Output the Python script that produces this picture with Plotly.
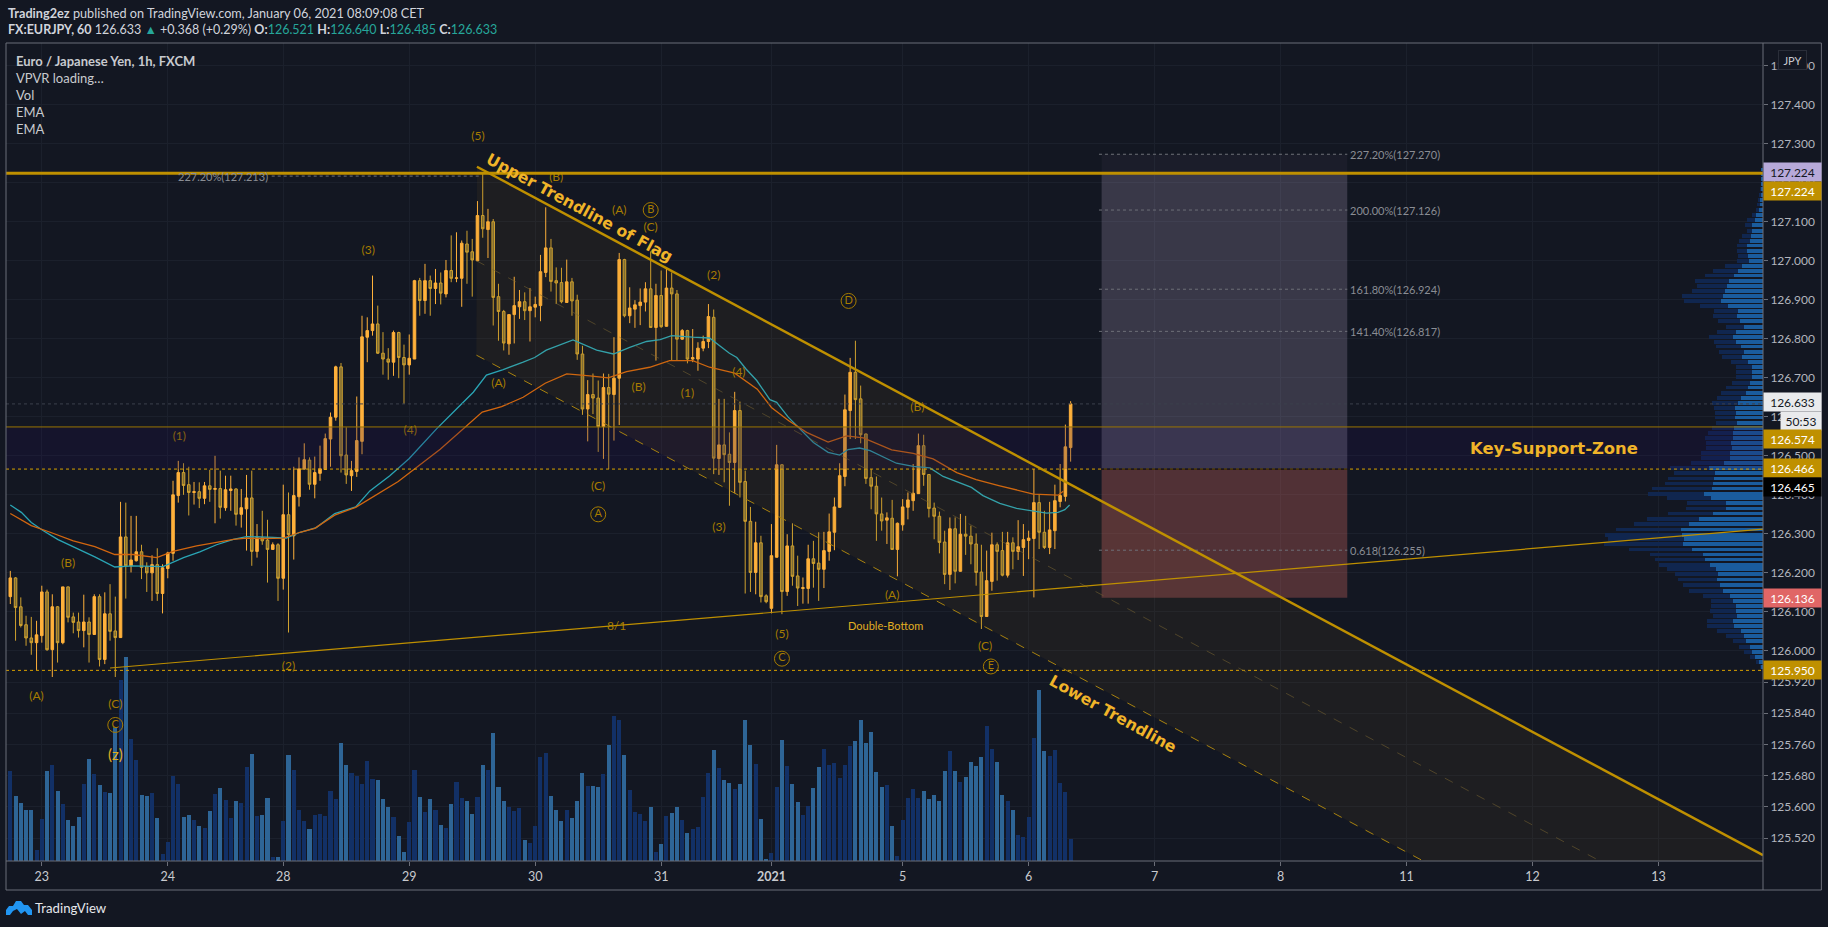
import plotly.graph_objects as go

# ---------- candles (hourly bars, indexed from the first bar) ----------
opens = [126.139,126.187,126.113,126.067,126.033,126.021,126.039,126.151,126.003,126.113,
126.021,126.164,126.087,126.074,126.052,126.074,126.042,126.139,125.978,126.095,
126.051,126.034,126.292,126.218,126.231,126.254,126.216,126.200,126.221,126.147,
126.211,126.250,126.398,126.457,126.426,126.406,126.408,126.391,126.423,126.414,
126.416,126.367,126.411,126.415,126.350,126.364,126.392,126.255,126.290,126.284,
126.260,126.272,126.186,126.349,126.295,126.395,126.466,126.489,126.427,126.455,
126.465,126.543,126.599,126.728,126.502,126.449,126.460,126.537,126.804,126.821,
126.838,126.763,126.748,126.740,126.816,126.752,126.733,126.748,126.949,126.898,
126.949,126.929,126.943,126.915,126.975,126.955,126.955,127.043,127.023,127.000,
127.116,127.080,127.100,126.908,126.870,126.787,126.862,126.882,126.895,126.872,
126.881,126.885,126.970,127.033,126.949,126.944,126.893,126.946,126.899,126.761,
126.620,126.657,126.648,126.575,126.675,126.657,126.699,127.003,126.859,126.876,
126.885,126.894,126.928,126.829,126.911,126.832,126.930,126.915,126.799,126.821,
126.748,126.748,126.776,126.793,126.855,126.493,126.528,126.504,126.483,126.616,
126.434,126.332,126.201,126.277,126.141,126.109,126.240,126.477,126.152,126.269,
126.192,126.160,126.160,126.236,126.225,126.209,126.255,126.304,126.368,126.447,
126.616,126.714,126.646,126.556,126.444,126.422,126.351,126.335,126.340,126.260,
126.323,126.368,126.385,126.403,126.526,126.452,126.366,126.345,126.279,126.196,
126.313,126.204,126.299,126.294,126.274,126.202,126.088,126.178,126.272,126.257,
126.194,126.277,126.255,126.265,126.283,126.288,126.380,126.304,126.265,126.308,
126.383,126.396,126.521]
highs = [126.205,126.189,126.137,126.090,126.087,126.077,126.167,126.157,126.145,126.115,
126.164,126.165,126.098,126.098,126.144,126.086,126.145,126.145,126.150,126.171,
126.139,126.382,126.380,126.346,126.346,126.272,126.227,126.245,126.263,126.222,
126.254,126.436,126.487,126.481,126.472,126.433,126.432,126.433,126.464,126.500,
126.462,126.449,126.449,126.417,126.415,126.451,126.462,126.325,126.359,126.336,
126.278,126.276,126.426,126.406,126.472,126.496,126.532,126.496,126.498,126.526,
126.557,126.611,126.731,126.738,126.573,126.487,126.652,126.859,126.855,126.962,
126.885,126.817,126.776,126.821,126.818,126.785,126.811,126.951,126.956,126.992,
126.962,126.979,126.970,127.002,127.065,127.073,127.052,127.077,127.056,127.153,
127.224,127.133,127.107,126.941,126.874,126.862,126.959,126.925,126.919,126.930,
126.908,127.015,127.137,127.056,126.983,126.982,127.003,126.956,126.913,126.782,
126.694,126.711,126.693,126.711,126.710,126.804,127.020,127.005,126.932,126.899,
126.929,126.945,127.024,126.941,126.975,126.983,126.970,126.925,126.825,126.823,
126.825,126.791,126.808,126.889,126.875,126.646,126.646,126.560,126.664,126.639,
126.462,126.369,126.331,126.295,126.145,126.325,126.528,126.479,126.299,126.327,
126.244,126.188,126.272,126.282,126.304,126.305,126.352,126.393,126.481,126.657,
126.751,126.795,126.680,126.557,126.466,126.447,126.393,126.355,126.387,126.329,
126.389,126.406,126.479,126.557,126.554,126.453,126.380,126.357,126.308,126.342,
126.342,126.351,126.346,126.321,126.301,126.272,126.257,126.303,126.278,126.305,
126.305,126.291,126.335,126.325,126.308,126.466,126.402,126.359,126.382,126.426,
126.479,126.580,126.640]
lows = [126.120,126.026,126.060,126.013,125.990,125.951,126.021,126.000,125.933,125.970,
126.017,126.073,126.045,126.034,126.009,125.970,126.041,125.960,125.966,126.026,
125.933,126.033,126.134,126.201,126.229,126.184,126.151,126.128,126.128,126.096,
126.186,126.231,126.380,126.400,126.347,126.375,126.366,126.376,126.382,126.327,
126.339,126.359,126.359,126.321,126.316,126.257,126.218,126.239,126.272,126.175,
126.259,126.128,126.157,126.047,126.234,126.370,126.465,126.413,126.391,126.436,
126.464,126.472,126.590,126.457,126.428,126.410,126.446,126.504,126.740,126.808,
126.761,126.708,126.695,126.705,126.699,126.633,126.708,126.748,126.859,126.864,
126.859,126.889,126.888,126.906,126.945,126.945,126.882,126.941,126.908,126.999,
127.059,127.007,126.834,126.795,126.770,126.759,126.788,126.851,126.848,126.793,
126.855,126.845,126.958,126.921,126.889,126.891,126.893,126.859,126.746,126.605,
126.537,126.607,126.510,126.492,126.466,126.539,126.579,126.855,126.840,126.828,
126.835,126.870,126.828,126.744,126.828,126.831,126.744,126.744,126.797,126.737,
126.740,126.718,126.768,126.776,126.453,126.451,126.432,126.372,126.404,126.393,
126.147,126.151,126.145,126.124,126.122,126.096,126.239,126.094,126.141,126.167,
126.115,126.121,126.121,126.162,126.128,126.161,126.231,126.258,126.367,126.422,
126.543,126.543,126.532,126.428,126.363,126.282,126.308,126.274,126.259,126.191,
126.308,126.337,126.359,126.402,126.423,126.342,126.286,126.250,126.171,126.156,
126.173,126.203,126.246,126.222,126.167,126.056,126.087,126.154,126.180,126.191,
126.188,126.209,126.233,126.192,126.235,126.137,126.261,126.261,126.248,126.261,
126.368,126.383,126.485]
closes = [126.187,126.111,126.065,126.033,126.021,126.041,126.151,126.003,126.113,126.021,
126.164,126.086,126.073,126.052,126.074,126.042,126.139,125.978,126.095,126.050,
126.034,126.292,126.218,126.233,126.254,126.214,126.200,126.221,126.147,126.213,
126.251,126.400,126.457,126.424,126.406,126.408,126.391,126.423,126.414,126.416,
126.368,126.413,126.415,126.350,126.367,126.392,126.255,126.290,126.282,126.260,
126.272,126.186,126.349,126.298,126.398,126.467,126.490,126.427,126.457,126.467,
126.544,126.599,126.728,126.500,126.451,126.462,126.539,126.805,126.821,126.838,
126.763,126.748,126.740,126.816,126.752,126.733,126.750,126.949,126.898,126.949,
126.929,126.943,126.917,126.975,126.955,126.956,127.045,127.022,127.002,127.116,
127.082,127.100,126.906,126.870,126.789,126.862,126.885,126.895,126.872,126.882,
126.888,126.972,127.033,126.947,126.943,126.895,126.946,126.897,126.761,126.620,
126.657,126.648,126.575,126.675,126.658,126.699,127.003,126.859,126.879,126.887,
126.894,126.928,126.829,126.911,126.831,126.930,126.915,126.799,126.821,126.748,
126.752,126.776,126.793,126.857,126.494,126.528,126.503,126.483,126.616,126.432,
126.332,126.201,126.277,126.139,126.126,126.244,126.477,126.152,126.269,126.191,
126.161,126.162,126.236,126.224,126.209,126.257,126.305,126.369,126.449,126.618,
126.714,126.644,126.554,126.442,126.422,126.351,126.333,126.341,126.260,126.327,
126.369,126.387,126.404,126.526,126.452,126.365,126.345,126.278,126.196,126.313,
126.204,126.299,126.294,126.274,126.201,126.088,126.180,126.272,126.255,126.194,
126.277,126.255,126.267,126.285,126.289,126.380,126.304,126.265,126.310,126.385,
126.398,126.523,126.633]
volumes = [900,650,580,510,510,110,420,900,960,700,570,410,350,440,770,1020,870,760,690,680,
1340,1810,2040,1220,1010,660,650,680,430,70,190,850,770,440,460,410,350,330,500,670,
730,610,430,600,580,940,1070,450,460,630,40,40,400,1060,910,510,400,320,460,470,
450,700,620,1180,960,880,850,770,1000,820,810,620,540,440,250,90,390,910,640,490,
620,510,360,330,570,790,630,600,470,640,960,910,1280,740,600,540,500,530,210,180,
350,1040,1080,650,510,400,510,430,600,
880,750,750,740,870,1160,1450,1410,1060,710,490,470,400,540,90,170,450,480,540,410,
280,320,340,640,880,1110,930,810,780,720,770,1410,1160,970,420,20,80,740,1210,950,
770,590,460,550,730,940,1120,960,980,830,960,1150,1200,1410,1180,1290,890,740,760,350,
50,410,630,720,630,700,620,660,600,900,1100,900,790,840,990,950,1040,1350,1120,990,
660,600,510,260,240,440,1230,1710,1100,1050,1110,780,690,220]

# ---------- EMAs ----------
ema_fast_x = [0,2.1,4,6.3,9.1,11.4,13.6,16.1,19.9,23.4,29.1,33,36.1,39.3,42.5,45,50.1,52.6,55.2,58.3,61.8,65.8,68.5,72.3,76,81.2,85,88.2,90.7,93.9,97.7,99.9,102.1,104.7,107.2,111.7,114.9,118,121.2,123.8,126,130,133.2,137,138.4,140.2,142.2,144.7,146,148.2,150.4,153,155.8,158,159.6,161.8,163.8,166.3,168.8,172,175.2,177.7,180.3,183.1,185.3,188.5,191.7,194.9,197.4,199.6,200.9,201.8]
ema_fast_y = [126.374,126.355,126.329,126.308,126.285,126.271,126.257,126.241,126.215,126.218,126.216,126.239,126.254,126.272,126.286,126.293,126.291,126.289,126.304,126.316,126.352,126.369,126.410,126.449,126.493,126.569,126.620,126.663,126.707,126.721,126.740,126.752,126.771,126.785,126.797,126.771,126.761,126.778,126.793,126.798,126.808,126.804,126.802,126.763,126.752,126.722,126.693,126.644,126.637,126.599,126.569,126.534,126.509,126.502,126.516,126.520,126.513,126.498,126.481,126.473,126.469,126.447,126.434,126.419,126.398,126.378,126.365,126.359,126.353,126.355,126.362,126.374]
ema_slow_x = [0,4,7.6,12,16.1,19.9,23.4,27.9,31,35.5,39.3,42.5,45,48.2,52,55.2,58,61.8,65.8,69.8,73.9,81.9,89.9,93.6,97.7,101.9,106,110.4,113.9,117.4,121.8,125.6,130,133.2,138,142.3,145,148.3,151.7,155.8,159.3,162.5,167.9,172,175.8,180.3,184,188.5,194.9,199.6,200.6]
ema_slow_y = [126.352,126.321,126.304,126.282,126.267,126.247,126.247,126.239,126.255,126.269,126.278,126.286,126.289,126.288,126.289,126.304,126.314,126.348,126.368,126.400,126.434,126.517,126.612,126.626,126.650,126.686,126.710,126.705,126.700,126.716,126.727,126.744,126.744,126.727,126.712,126.671,126.624,126.590,126.560,126.535,126.551,126.546,126.515,126.506,126.492,126.457,126.439,126.423,126.402,126.399,126.409]

# ---------- visible-range volume profile ----------
vpvr_price = [127.234,127.221,127.209,127.196,127.183,127.169,127.156,127.144,127.131,127.118,127.105,127.091,127.077,127.064,127.051,127.039,127.026,127.013,127.000,126.987,126.974,126.962,126.949,126.936,126.923,126.910,126.897,126.885,126.872,126.858,126.845,126.831,126.818,126.805,126.792,126.780,126.767,126.754,126.741,126.728,126.715,126.703,
126.687,126.675,126.662,126.649,126.636,126.623,126.610,126.598,126.585,126.572,126.559,126.546,126.533,126.521,126.508,126.495,126.482,126.468,126.455,126.442,126.429,126.416,126.403,126.391,126.378,126.365,126.352,126.339,126.325,126.311,126.298,126.286,126.273,126.260,126.247,126.234,126.221,126.209,126.196,126.183,126.168,126.154,126.141,126.128,126.115,126.103,126.090,126.077,126.064,126.051,126.038,126.026,126.010,125.997,125.985,125.972,125.959]
vpvr_total = [4,4,5,4,10,13,16,18,20,32,47,55,47,64,73,79,77,76,79,115,151,175,205,199,214,244,238,190,148,151,136,112,139,161,148,142,133,124,97,82,82,82,
94,112,127,139,154,148,145,145,142,154,166,175,172,172,187,187,217,280,268,286,295,334,346,289,229,232,286,349,388,442,475,466,478,403,340,325,313,289,265,256,241,223,181,157,157,160,151,169,169,139,112,91,73,58,40,22,8]
vpvr_up = [4,4,5,4,6,7,10,10,13,20,25,32,32,35,40,49,49,46,43,64,76,88,103,109,115,121,127,106,76,79,70,58,82,91,82,67,58,64,46,34,34,34,
40,46,52,67,76,85,82,85,79,88,91,91,97,94,100,100,118,163,145,148,151,154,178,157,112,112,151,193,223,247,244,238,241,214,181,175,160,142,136,139,130,121,100,91,82,82,79,91,88,67,58,52,40,34,25,13,4]

# ---------- axes ----------
date_ticks = [6,30,52,76,100,124,145,170,194,218,242,266,290,314]
date_labels = ["23","24","28","29","30","31","<b>2021</b>","5","6","7","8","11","12","13"]
price_ticks = [127.5,127.4,127.3,127.2,127.1,127.0,126.9,126.8,126.7,126.6,126.5,126.4,126.3,126.2,126.1,126.0,125.92,125.84,125.76,125.68,125.6,125.52]
price_labels = ["%.3f" % v for v in price_ticks]

# ---------- levels and drawings (bar index, price) ----------
FLAG_UPPER = [(88.9,127.241),(333.9,125.476)]
FLAG_LOWER = [(88.8,126.758),(333.9,124.996)]
FLAG_MID = [(88.8,127.000),(333.9,125.238)]
SUPPORT_LINE = [(19,125.956),(333.9,126.312)]
LEVEL_RES = 127.224
LEVEL_ZONE_TOP = 126.574
LEVEL_ZONE_BOT = 126.466
LEVEL_LOW = 125.950
LAST_PRICE = 126.633
RR_LEFT, RR_RIGHT = 207.9, 254.7
RR_TOP, RR_ENTRY, RR_STOP = 127.273, 126.466, 126.136
fib_levels = [127.273,127.130,126.927,126.819,126.258]
fib_labels = ["227.20%(127.270)","200.00%(127.126)","161.80%(126.924)","141.40%(126.817)","0.618(126.255)"]
fib_left = 127.217

wave_x = [89.1,104,116,122,134,68.2,138.8,93,119.7,129,172.8,32.2,76.2,112,135,11,168,53,115.5,147,185.7,5,20]
wave_y = [127.316,127.211,127.127,127.083,126.960,127.026,126.712,126.685,126.673,126.658,126.622,126.548,126.563,126.420,126.315,126.222,126.140,125.958,126.060,126.040,126.010,125.881,125.860]
wave_t = ["(5)","(B)","(A)","(C)","(2)","(3)","(4)","(A)","(B)","(1)","(B)","(1)","(4)","(C)","(3)","(B)","(A)","(2)","8/1","(5)","(C)","(A)","(C)"]
circ_x = [122,159.7,112,147,186.8,20]
circ_y = [127.13,126.897,126.35,125.98,125.96,125.81]
circ_t = ["B","D","A","C","E","C"]

GOLD = "#BF9000"
WAVE = "#A67C00"
BG = "#131722"
FONT = "Lato, Roboto, sans-serif"
Y_RANGE = [125.4613, 127.5582]

xs = list(range(len(opens)))
vol_colors = ["#123066" if c >= o else "#2E6596" for o, c in zip(opens, closes)]

fig = go.Figure()
fig.add_trace(go.Candlestick(x=xs, open=opens, high=highs, low=lows, close=closes,
    increasing=dict(line=dict(color="#FFB13B", width=1), fillcolor="#FFB13B"),
    decreasing=dict(line=dict(color="#CFA12F", width=1), fillcolor="#7D6B33"),
    whiskerwidth=0, showlegend=False, hoverinfo="skip"))
fig.add_trace(go.Scatter(x=ema_fast_x, y=ema_fast_y, mode="lines", line=dict(color="#2AA5B5", width=1.3), showlegend=False, hoverinfo="skip"))
fig.add_trace(go.Scatter(x=ema_slow_x, y=ema_slow_y, mode="lines", line=dict(color="#D2660F", width=1.3), showlegend=False, hoverinfo="skip"))
fig.add_trace(go.Bar(x=xs, y=volumes, yaxis="y2", marker=dict(color=vol_colors, line=dict(width=0)), width=0.77, showlegend=False, hoverinfo="skip"))
fig.add_trace(go.Bar(y=vpvr_price, x=vpvr_total, orientation="h", xaxis="x2", marker=dict(color="#10264F", line=dict(width=0)), width=0.0098, showlegend=False, hoverinfo="skip"))
fig.add_trace(go.Bar(y=vpvr_price, x=vpvr_up, orientation="h", xaxis="x2", marker=dict(color="#1A5C9E", line=dict(width=0)), width=0.0098, showlegend=False, hoverinfo="skip"))
fig.add_trace(go.Scatter(x=wave_x, y=wave_y, text=wave_t, mode="text", textposition="middle center", yaxis="y3",
    textfont=dict(family=FONT, size=12, color=WAVE), showlegend=False, hoverinfo="skip"))
fig.add_trace(go.Scatter(x=circ_x, y=circ_y, text=circ_t, mode="markers+text", textposition="middle center", yaxis="y3",
    marker=dict(symbol="circle-open", size=15, color=WAVE, line=dict(color=WAVE, width=1)),
    textfont=dict(family=FONT, size=11, color=WAVE), showlegend=False, hoverinfo="skip"))

# drawings
def hline(y, color, width, dash="solid", x0=-0.82, x1=333.9):
    return dict(type="line", xref="x", yref="y", x0=x0, x1=x1, y0=y, y1=y, line=dict(color=color, width=width, dash=dash))
def seg(p, color, width, dash="solid"):
    return dict(type="line", xref="x", yref="y", x0=p[0][0], y0=p[0][1], x1=p[1][0], y1=p[1][1], line=dict(color=color, width=width, dash=dash))
def rect(x0, x1, y0, y1, color):
    return dict(type="rect", xref="x", yref="y", x0=x0, x1=x1, y0=y0, y1=y1, fillcolor=color, line=dict(width=0))

shapes = []
shapes.append(rect(-0.82, 333.9, LEVEL_ZONE_BOT, LEVEL_ZONE_TOP, "rgba(33,14,80,0.22)"))
poly = "M %f %f L %f %f L %f %f L %f %f Z" % (FLAG_UPPER[0][0], FLAG_UPPER[0][1], FLAG_UPPER[1][0], FLAG_UPPER[1][1], FLAG_LOWER[1][0], FLAG_LOWER[1][1], FLAG_LOWER[0][0], FLAG_LOWER[0][1])
shapes.append(dict(type="path", xref="x", yref="y", path=poly, fillcolor="rgba(170,125,30,0.075)", line=dict(width=0)))
shapes.append(rect(RR_LEFT, RR_RIGHT, LEVEL_RES, RR_TOP, "rgba(178,165,195,0.05)"))
shapes.append(rect(RR_LEFT, RR_RIGHT, RR_ENTRY, LEVEL_RES, "rgba(178,165,195,0.24)"))
shapes.append(rect(RR_LEFT, RR_RIGHT, RR_STOP, RR_ENTRY, "rgba(225,110,103,0.3)"))
shapes.append(hline(LAST_PRICE, "#3C404C", 1, "dot"))
shapes.append(hline(LEVEL_ZONE_BOT, "#D9A000", 1, "dot"))
shapes.append(hline(LEVEL_LOW, "#D9A000", 1, "dot"))
shapes.append(hline(LEVEL_ZONE_TOP, "#9A7400", 1))
shapes.append(hline(RR_ENTRY, "#000000", 1, x0=RR_LEFT, x1=RR_RIGHT))
for lv in fib_levels:
    shapes.append(hline(lv, "#6E7078", 1, "dot", RR_LEFT - 0.5, RR_RIGHT))
shapes.append(hline(fib_left, "#6E7078", 1, "dot", 49.8, 89.7))
shapes.append(seg(FLAG_MID, "rgba(120,100,50,0.55)", 1, "dash"))
shapes.append(seg(FLAG_LOWER, "#A8820F", 1, "dash"))
shapes.append(seg(SUPPORT_LINE, GOLD, 1.2))
shapes.append(seg(FLAG_UPPER, GOLD, 2.5))
shapes.append(hline(LEVEL_RES, GOLD, 3))

# chrome in page pixels
PL, PR, PT, PB = 6.0, 1763.3, 43.0, 861.0
def px(x): return (x - PL) / (PR - PL)
def py(y): return (PB - y) / (PB - PT)
shapes.append(dict(type="rect", xref="paper", yref="paper", x0=px(6), x1=px(1821.7), y0=py(43), y1=py(890), line=dict(color="#6B6E78", width=1), fillcolor="rgba(0,0,0,0)"))
shapes.append(dict(type="line", xref="paper", yref="paper", x0=px(PR), x1=px(PR), y0=py(43), y1=py(890), line=dict(color="#6B6E78", width=1)))
shapes.append(dict(type="line", xref="paper", yref="paper", x0=px(6), x1=px(PR), y0=0, y1=0, line=dict(color="#6B6E78", width=1)))
cloud = [(6,915),(6,910),(9,906),(13,906),(16,901),(21,901),(24,905),(28,905),(32,910),(32,915),(28,915),(25,911),(21,914),(17,909),(13,911),(10,915)]
cloud_path = "M " + " L ".join("%.5f %.5f" % (px(a), py(b)) for a, b in cloud) + " Z"
shapes.append(dict(type="path", xref="paper", yref="paper", path=cloud_path, fillcolor="#2196F3", line=dict(width=0)))

anns = []
def text_px(x, y, t, size=12, color="#C8CACF", anchor="left"):
    anns.append(dict(xref="paper", yref="paper", x=px(x), y=py(y), text=t, showarrow=False, xanchor=anchor, yanchor="middle",
                     align="left", font=dict(family=FONT, size=size, color=color)))
TEAL = "#26A69A"
def teal(s): return "<span style='color:%s'>%s</span>" % (TEAL, s)
text_px(6, 13, "<b>Trading2ez</b> published on TradingView.com, January 06, 2021 08:09:08 CET", 12.7, "#D1D4DC")
text_px(6, 29.5, "<b>FX:EURJPY, 60</b> 126.633 " + teal("▲") + " +0.368 (+0.29%) <b>O:</b>" + teal("126.521") + " <b>H:</b>" + teal("126.640") + " <b>L:</b>" + teal("126.485") + " <b>C:</b>" + teal("126.633"), 12.5, "#D1D4DC")
text_px(14, 60.7, "<b>Euro / Japanese Yen, 1h, FXCM</b>", 13)
text_px(14, 77.7, "VPVR loading…", 13)
text_px(14, 94.7, "Vol", 13)
text_px(14, 111.7, "EMA", 13)
text_px(14, 128.7, "EMA", 13)
text_px(33.5, 908, "TradingView", 13.2, "#E6E8EC")

# data-anchored texts
def text_d(x, y, t, size=12, color="#8A8D94", anchor="left", angle=0, bold=False, family=FONT):
    anns.append(dict(xref="x", yref="y", x=x, y=y, text=("<b>%s</b>" % t) if bold else t, showarrow=False, xanchor=anchor, yanchor="middle",
                     textangle=angle, font=dict(family=family, size=size, color=color)))
for lv, lb in zip(fib_levels, fib_labels):
    text_d(RR_RIGHT + 0.2, lv, lb, 11)
text_d(49.4, fib_left, "227.20%(127.213)", 11, anchor="right")
text_d(20, 125.735, "(z)", 15, "#E0AE22", anchor="center")
text_d(166.8, 126.064, "Double-Bottom", 11, "#E0AE22", anchor="center")
text_d(108.4, 127.136, "Upper Trendline of Flag", 15.8, "#F0B429", "center", 28.5, True, "DejaVu Sans")
text_d(210, 125.84, "Lower Trendline", 15.8, "#F0B429", "center", 29, True, "DejaVu Sans")
text_d(294, 126.52, "Key-Support-Zone", 16.4, "#F0B429", "center", 0, True, "DejaVu Sans")

# price-axis flags
def flag(y, t, bg, fg, w=57, x=PR):
    anns.append(dict(xref="paper", yref="y", x=px(x), y=y, text=t, showarrow=False, xanchor="left", yanchor="middle",
                     width=w, height=18, bgcolor=bg, borderpad=0, align="center", font=dict(family=FONT, size=12, color=fg)))
flag(127.227, "127.224", "#B7A9D9", "#131722")
flag(127.180, "127.224", GOLD, "#FFFFFF")
flag(126.637, "126.633", "#E9EAEC", "#131722")
flag(126.588, "50:53", "#E9EAEC", "#131722", 40, 1780)
flag(126.542, "126.574", GOLD, "#FFFFFF")
flag(126.468, "126.466", GOLD, "#FFFFFF")
flag(126.421, "126.465", "#000000", "#FFFFFF")
flag(126.136, "126.136", "#E06666", "#FFFFFF")
flag(125.950, "125.950", GOLD, "#FFFFFF")
anns.append(dict(xref="paper", yref="paper", x=px(1778), y=py(59.5), text="JPY", showarrow=False, xanchor="left", yanchor="middle",
                 width=27, height=18, bgcolor=BG, bordercolor="#2A2E39", borderwidth=1, borderpad=0, align="center",
                 font=dict(family=FONT, size=11, color="#C8CACF")))

fig.update_layout(
    width=1828, height=927, paper_bgcolor=BG, plot_bgcolor=BG,
    margin=dict(l=PL, r=1828 - PR, t=PT, b=927 - PB, pad=0),
    barmode="overlay", bargap=0, showlegend=False, shapes=shapes, annotations=anns,
    xaxis=dict(range=[-0.82, 333.9], tickmode="array", tickvals=date_ticks, ticktext=date_labels, showgrid=True, gridcolor="#1B202C", gridwidth=1,
               zeroline=False, ticks="outside", ticklen=4, tickcolor="#6B6E78", tickfont=dict(family=FONT, size=12.5, color="#C8CACF"), rangeslider=dict(visible=False), showline=False),
    yaxis=dict(range=Y_RANGE, side="right", tickmode="array", tickvals=price_ticks, ticktext=price_labels, showgrid=True, gridcolor="#1B202C", gridwidth=1,
               zeroline=False, ticks="outside", ticklen=4, tickcolor="#6B6E78", tickfont=dict(family=FONT, size=12, color="#B2B5BE"), showline=False),
    yaxis2=dict(overlaying="y", range=[0, 8180], visible=False, fixedrange=True),
    yaxis3=dict(overlaying="y", range=Y_RANGE, visible=False, fixedrange=True),
    xaxis2=dict(overlaying="x", range=[5271, 0], visible=False, fixedrange=True),
)
fig.write_html("out.html", config=dict(displayModeBar=False),
               post_script="document.body.style.margin='0';document.body.style.background='%s';document.body.style.overflow='hidden';" % BG)
